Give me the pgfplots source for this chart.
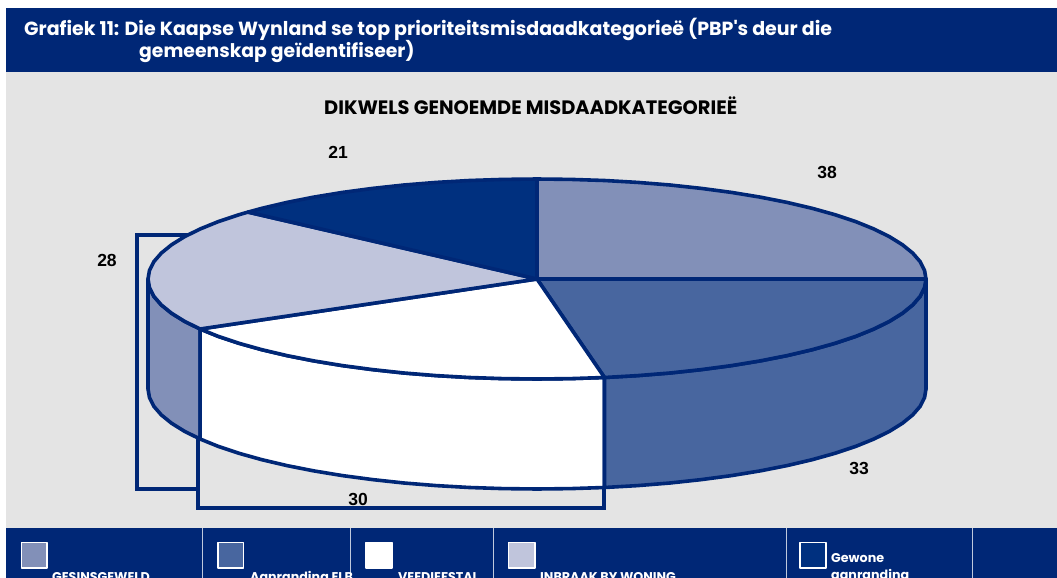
\documentclass[border=0pt]{standalone}
\usepackage{pgfplots}
\pgfplotsset{compat=1.18}
\usepackage{fontspec}
\setmainfont{Liberation Sans}
\newfontfamily\gothic{Poppins}
\definecolor{navy}{HTML}{002776}
\definecolor{bgg}{HTML}{E4E4E4}
\definecolor{sa}{HTML}{8290B8}
\definecolor{sb}{HTML}{48669F}
\definecolor{sd}{HTML}{C0C5DC}
\definecolor{se}{HTML}{00307F}
\newcommand\poly[2]{\addplot[#1] coordinates {#2} -- cycle;}
\begin{document}
\begin{tikzpicture}
\path[use as bounding box, clip] (0,0) rectangle (1057pt,578pt);
\begin{axis}[at={(0,0)},anchor=south west,scale only axis,width=1057pt,height=578pt,
  xmin=0,xmax=1057,ymin=0,ymax=578,y dir=reverse,hide axis,clip=false,no markers,
  every axis plot/.append style={sharp plot,line join=round}]
% page pieces
\poly{fill=white,draw=none}{(0,0)(1057,0)(1057,578)(0,578)}
\poly{fill=bgg,draw=none}{(6,72)(1057,72)(1057,528)(6,528)}
\poly{fill=navy,draw=none}{(6,8)(1057,8)(1057,72)(6,72)}
\poly{fill=navy,draw=none}{(6,528)(1057,528)(1057,578)(6,578)}
\addplot[draw=white!75!navy,line width=0.8pt] coordinates {(202,528)(202,578)};
\addplot[draw=white!75!navy,line width=0.8pt] coordinates {(350,528)(350,578)};
\addplot[draw=white!75!navy,line width=0.8pt] coordinates {(493,528)(493,578)};
\addplot[draw=white!75!navy,line width=0.8pt] coordinates {(786,528)(786,578)};
\addplot[draw=white!75!navy,line width=0.8pt] coordinates {(972,528)(972,578)};
% the two stray frames
\poly{fill=bgg,draw=navy,line width=4pt,line join=miter}{(137,235)(300,235)(300,489)(137,489)}
\poly{fill=bgg,draw=navy,line width=4pt,line join=miter}{(198,329)(604,329)(604,508)(198,508)}
% side faces
\poly{fill=sa,draw=navy,line width=3.6pt}{(148,279)(149.5,287.7)(153.9,296.4)(161.3,304.9)(171.5,313.2)(184.5,321.3)(200.1,329)(200.1,439)(184.5,431.3)(171.5,423.2)(161.3,414.9)(153.9,406.4)(149.5,397.7)(148,389)}
\poly{fill=white,draw=navy,line width=3.6pt}{(200.1,329)(218.3,336.4)(239,343.3)(261.9,349.7)(287,355.6)(313.9,360.9)(342.5,365.6)(372.6,369.6)(404,373)(436.3,375.6)(469.5,377.5)(503.1,378.6)(537,379)(570.9,378.6)(604.5,377.5)(604.5,487.5)(570.9,488.6)(537,489)(503.1,488.6)(469.5,487.5)(436.3,485.6)(404,483)(372.6,479.6)(342.5,475.6)(313.9,470.9)(287,465.6)(261.9,459.7)(239,453.3)(218.3,446.4)(200.1,439)}
\poly{fill=sb,draw=navy,line width=3.6pt}{(604.5,377.5)(637.7,375.6)(670,373)(701.4,369.6)(731.5,365.6)(760.1,360.9)(787,355.6)(812.1,349.7)(835,343.3)(855.7,336.4)(873.9,329)(889.5,321.3)(902.5,313.2)(912.7,304.9)(920.1,296.4)(924.5,287.7)(926,279)(926,389)(924.5,397.7)(920.1,406.4)(912.7,414.9)(902.5,423.2)(889.5,431.3)(873.9,439)(855.7,446.4)(835,453.3)(812.1,459.7)(787,465.6)(760.1,470.9)(731.5,475.6)(701.4,479.6)(670,483)(637.7,485.6)(604.5,487.5)}
% top faces
\poly{fill=sa,draw=navy,line width=3.6pt}{(537,279)(537,179)(570.9,179.4)(604.5,180.5)(637.7,182.4)(670,185)(701.4,188.4)(731.5,192.4)(760.1,197.1)(787,202.4)(812.1,208.3)(835,214.7)(855.7,221.6)(873.9,229)(889.5,236.7)(902.5,244.8)(912.7,253.1)(920.1,261.6)(924.5,270.3)(926,279)}
\poly{fill=sb,draw=navy,line width=3.6pt}{(537,279)(926,279)(924.5,287.7)(920.1,296.4)(912.7,304.9)(902.5,313.2)(889.5,321.3)(873.9,329)(855.7,336.4)(835,343.3)(812.1,349.7)(787,355.6)(760.1,360.9)(731.5,365.6)(701.4,369.6)(670,373)(637.7,375.6)(604.5,377.5)}
\poly{fill=white,draw=navy,line width=3.6pt}{(537,279)(604.5,377.5)(570.9,378.6)(537,379)(503.1,378.6)(469.5,377.5)(436.3,375.6)(404,373)(372.6,369.6)(342.5,365.6)(313.9,360.9)(287,355.6)(261.9,349.7)(239,343.3)(218.3,336.4)(200.1,329)}
\poly{fill=sd,draw=navy,line width=3.6pt}{(537,279)(200.1,329)(184.5,321.3)(171.5,313.2)(161.3,304.9)(153.9,296.4)(149.5,287.7)(148,279)(149.5,270.3)(153.9,261.6)(161.3,253.1)(171.5,244.8)(184.5,236.7)(200.1,229)(218.3,221.6)(239,214.7)(248,212.1)}
\poly{fill=se,draw=navy,line width=3.6pt}{(537,279)(248,212.1)(261.9,208.3)(287,202.4)(313.9,197.1)(342.5,192.4)(372.6,188.4)(404,185)(436.3,182.4)(469.5,180.5)(503.1,179.4)(537,179)}
% legend swatches
\poly{fill=sa,draw=white,line width=1.2pt}{(21.5,542.5)(47,542.5)(47,568)(21.5,568)}
\poly{fill=sb,draw=white,line width=1.2pt}{(218,542.5)(243.5,542.5)(243.5,568)(218,568)}
\poly{fill=white,draw=white,line width=1.2pt}{(366,542.5)(392,542.5)(392,568)(366,568)}
\poly{fill=sd,draw=white,line width=1.2pt}{(508.5,542.5)(535,542.5)(535,568)(508.5,568)}
\poly{fill=se,draw=white,line width=1.2pt}{(800,542.5)(826,542.5)(826,568)(800,568)}
% text
\node[anchor=base west,text=white,inner sep=0pt] at (axis cs:24,36) {\gothic\bfseries\fontsize{19}{19}\selectfont Grafiek 11: Die Kaapse Wynland se top prioriteitsmisdaadkategorieë (PBP's deur die};
\node[anchor=base west,text=white,inner sep=0pt] at (axis cs:139,58) {\gothic\bfseries\fontsize{18.8}{19}\selectfont gemeenskap geïdentifiseer)};
\node[anchor=base west,text=black,inner sep=0pt] at (axis cs:324,114) {\gothic\bfseries\fontsize{19.4}{19}\selectfont DIKWELS GENOEMDE MISDAADKATEGORIEË};
\foreach \x/\y/\t in {338/158/21,827/178/38,107/266/28,859/474/33,358/505/30}{
 \edef\tmp{\noexpand\node[anchor=base,text=black,inner sep=0pt] at (axis cs:\x,\y) {\noexpand\bfseries\noexpand\fontsize{17.5}{17.5}\noexpand\selectfont \t};}\tmp}
\node[anchor=base west,text=white,inner sep=0pt] at (axis cs:52,581) {\gothic\bfseries\fontsize{12.7}{13}\selectfont GESINSGEWELD};
\node[anchor=base west,text=white,inner sep=0pt] at (axis cs:250,581) {\gothic\bfseries\fontsize{12.7}{13}\selectfont Aanranding ELB};
\node[anchor=base west,text=white,inner sep=0pt] at (axis cs:398,581) {\gothic\bfseries\fontsize{12.7}{13}\selectfont VEEDIEFSTAL};
\node[anchor=base west,text=white,inner sep=0pt] at (axis cs:540,581) {\gothic\bfseries\fontsize{12.7}{13}\selectfont INBRAAK BY WONING};
\node[anchor=base west,text=white,inner sep=0pt] at (axis cs:831,562) {\gothic\bfseries\fontsize{12.7}{13}\selectfont Gewone};
\node[anchor=base west,text=white,inner sep=0pt] at (axis cs:831,579) {\gothic\bfseries\fontsize{12.7}{13}\selectfont aanranding};
\end{axis}
\end{tikzpicture}
\end{document}
